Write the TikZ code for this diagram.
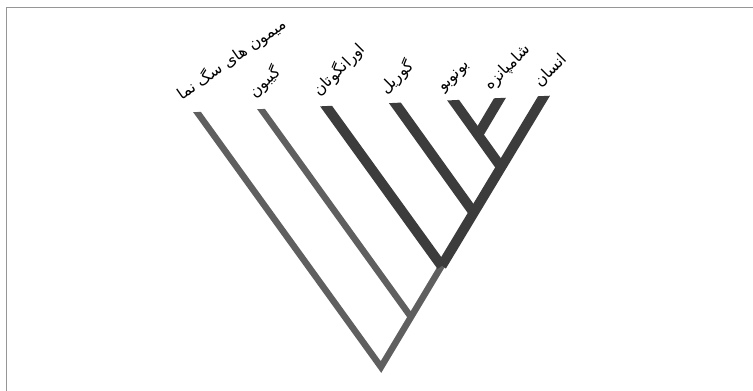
\documentclass[tikz,border=0pt]{standalone}
\usepackage{fontspec}
\newfontfamily\persianfont[Script=Arabic]{DejaVu Sans}
\TeXXeTstate=1
\usetikzlibrary{calc}

\definecolor{branchgray}{RGB}{95,95,95}
\definecolor{branchdark}{RGB}{60,60,60}
\definecolor{framegray}{RGB}{150,150,150}

\begin{document}
\begin{tikzpicture}[
  x=0.03cm, y=-0.03cm,
  lightbr/.style={draw=branchgray, line width=5.5pt, line cap=butt, line join=miter},
  darkbr/.style={draw=branchdark, line width=8.5pt, line cap=butt, line join=miter},
  tipext/.style={shorten >=-6pt},
  lbl/.style={font=\persianfont\fontsize{13.5}{15}\selectfont, rotate=45, anchor=south west, inner sep=0pt}
]
  \useasboundingbox (0,0) rectangle (753,391);
  \draw[framegray, line width=1.2pt] (6.5,391) -- (6.5,7.5) -- (753,7.5);

  % tips
  \coordinate (mimoon)  at (197,112);
  \coordinate (gibbon)  at (261,109);
  \coordinate (orang)   at (326,106);
  \coordinate (gorilla) at (395,103);
  \coordinate (bonobo)  at (453,100);
  \coordinate (chimp)   at (500,98);
  \coordinate (human)   at (544,96);
  % joins
  \coordinate (root)  at (381,367);
  \coordinate (jgib)  at (411,317);
  \coordinate (jorg)  at (441.6,266);
  \coordinate (jgor)  at (473.6,212.6);
  \coordinate (jpan)  at (501,167);
  \coordinate (jbc)   at (478,135);

  \begin{scope}
    \clip (150,114.2) -- (600,93.4) -- (600,391) -- (150,391) -- cycle;
    \draw[lightbr] ($(mimoon)!-0.05!(root)$) -- (root) -- (jorg);
    \draw[lightbr, tipext] (jgib) -- (gibbon);
    \draw[darkbr, tipext] (jorg) -- (human);
    \draw[darkbr, tipext] (jorg) -- (orang);
    \draw[darkbr, tipext] (jgor) -- (gorilla);
    \draw[darkbr, tipext] (jpan) -- (bonobo);
    \draw[darkbr, tipext] (jbc) -- (chimp);
  \end{scope}

  \node[lbl, rotate=-10] (lmimoon) at ($(mimoon)+(-13,-8)$) {\beginR میمون های سگ نما\endR};
  \node[lbl] (lgibbon)  at ($(gibbon)+(-3,-7)$)  {\beginR گیبون\endR};
  \node[lbl] (lorang)   at ($(orang)+(-4,-6)$)   {\beginR اورانگوتان\endR};
  \node[lbl] (lgorilla) at ($(gorilla)+(-6,-5)$) {\beginR گوریل\endR};
  \node[lbl] (lbonobo)  at ($(bonobo)+(-7,-5)$)  {\beginR بونوبو\endR};
  \node[lbl] (lchimp)   at ($(chimp)+(-7,-4)$)   {\beginR شامپانزه\endR};
  \node[lbl] (lhuman)   at ($(human)+(-2,-6)$)   {\beginR انسان\endR};
\end{tikzpicture}
\end{document}
